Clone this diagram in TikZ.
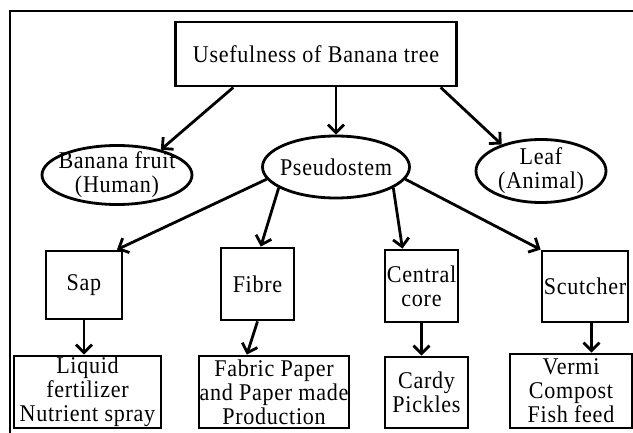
\documentclass[tikz,border=0pt]{standalone}
\usepackage{fontspec}
\setmainfont{Liberation Serif}[FakeStretch=0.92,LetterSpace=3]
\usetikzlibrary{arrows.meta,shapes.geometric}

\begin{document}
\begin{tikzpicture}[
    x=1pt, y=-1pt,
    line width=2.8pt,
    every node/.style = {font=\fontsize{24}{24}\selectfont, align=center, inner sep=0.5pt},
    box/.style = {draw, rectangle},
    oval/.style = {draw, ellipse, inner xsep=-20pt, inner ysep=-10pt},
    arr/.style = {-{Straight Barb[length=8pt,width=16pt]}}
     ]
  \useasboundingbox (0,0) rectangle (633,433);
  \draw (10,433) -- (10,11) -- (633,11);
  % top level
  \node[box, minimum width=281, minimum height=64] (top) at (316,54) {Usefulness of Banana tree};
  \node[oval, minimum width=150, minimum height=59] (fruit) at (117,175) {Banana fruit\\(Human)};
  \node[oval, minimum width=147, minimum height=62] (pseudo) at (336,167) {Pseudostem};
  \node[oval, minimum width=130, minimum height=63] (leaf) at (541,171) {Leaf\\(Animal)};
  % parts of the pseudostem
  \node[box, minimum width=76, minimum height=68] (sap) at (84,285) {Sap};
  \node[box, minimum width=73, minimum height=72] (fibre) at (257.5,284) {Fibre};
  \node[box, minimum width=73, minimum height=72] (central) at (421.5,286) {Central\\core};
  \node[box, minimum width=86, minimum height=71] (scutcher) at (585,286.5) {Scutcher};
  % products
  \node[box, minimum width=147, minimum height=72] (liquid) at (87.5,392) {Liquid\\fertilizer\\Nutrient spray};
  \node[box, minimum width=148, minimum height=72] (fabric) at (274,392) {Fabric Paper\\and Paper made\\Production};
  \node[box, minimum width=83, minimum height=71] (cardy) at (426.5,392.5) {Cardy\\Pickles};
  \node[box, minimum width=122, minimum height=74] (vermi) at (571,391) {Vermi\\Compost\\Fish feed};

  \draw[arr] (top.202) -- (fruit.30);
  \draw[arr] (top.south -| pseudo.north) -- (pseudo.north);
  \draw[arr] (top.-15) -- (leaf.146);
  \draw[arr] (pseudo.190) -- (sap.47);
  \draw[arr] (pseudo.200) -- (fibre.85);
  \draw[arr] (pseudo.340) -- (central.117);
  \draw[arr] (pseudo.-10) -- (scutcher.north west);
  \draw[arr] (sap.south) -- (sap.south |- liquid.north);
  \draw[arr] (fibre.south) -- (fabric.126);
  \draw[arr] (central.south) -- (central.south |- cardy.north);
  \draw[arr] (scutcher.-80) -- (scutcher.-80 |- vermi.north);
\end{tikzpicture}
\end{document}
